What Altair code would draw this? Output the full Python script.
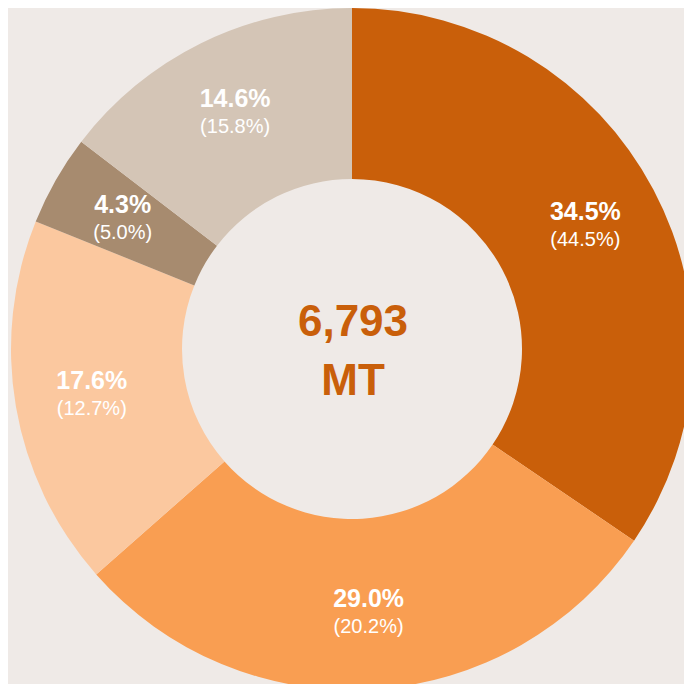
import altair as alt
import pandas as pd

categories = ["Segment 1", "Segment 2", "Segment 3", "Segment 4", "Segment 5"]
shares = [34.5, 29.0, 17.6, 4.3, 14.6]
share_labels = ["34.5%", "29.0%", "17.6%", "4.3%", "14.6%"]
prior_labels = ["(44.5%)", "(20.2%)", "(12.7%)", "(5.0%)", "(15.8%)"]
colors = ["#C95F0A", "#F99E52", "#FBC89F", "#A78B6F", "#D4C5B6"]
center_lines = ["6,793", "MT"]

BG = "#EFEAE7"
CX, CY = 344, 341

df = pd.DataFrame({
    "cat": categories,
    "share": shares,
    "lab": share_labels,
    "prior": prior_labels,
    "idx": list(range(len(categories))),
})

base = alt.Chart(df).encode(
    theta=alt.Theta("share:Q", stack=True),
    order=alt.Order("idx:Q"),
    x=alt.value(CX),
    y=alt.value(CY),
)

arcs = base.mark_arc(innerRadius=170, outerRadius=341).encode(
    color=alt.Color("cat:N", scale=alt.Scale(domain=categories, range=colors), legend=None)
)

lab1 = base.mark_text(radius=264, dy=-13, font="Liberation Sans", fontWeight="bold",
                      fontSize=25, color="white", align="center", baseline="middle").encode(
    text="lab:N")
lab2 = base.mark_text(radius=264, dy=15, font="Liberation Sans",
                      fontSize=20, color="white", align="center", baseline="middle").encode(
    text="prior:N")

cdf = pd.DataFrame({"t": center_lines, "k": [0, 1]})
c1 = alt.Chart(cdf).transform_filter("datum.k == 0").mark_text(
    font="Liberation Sans", fontWeight="bold", fontSize=44, color="#C95F0A",
    align="center", baseline="middle").encode(
    text="t:N", x=alt.value(CX + 1), y=alt.value(315))
c2 = alt.Chart(cdf).transform_filter("datum.k == 1").mark_text(
    font="Liberation Sans", fontWeight="bold", fontSize=44, color="#C95F0A",
    align="center", baseline="middle").encode(
    text="t:N", x=alt.value(CX + 1), y=alt.value(374))

chart = alt.layer(arcs, lab1, lab2, c1, c2).properties(
    width=676, height=676,
    autosize=alt.AutoSizeParams(type="none"),
    padding=0,
    background=BG,
).configure_view(stroke=None)

chart.save("out.html", embed_options={"renderer": "svg", "actions": False})
